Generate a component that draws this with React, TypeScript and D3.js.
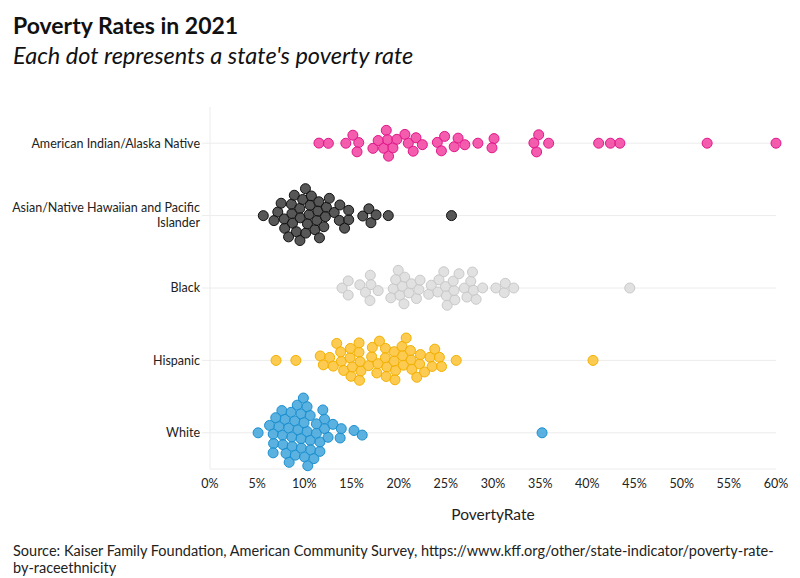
import * as d3 from "d3";
import { useEffect, useRef } from "react";

const width = 800;
const height = 578;
const margin = { top: 107, right: 24, bottom: 109, left: 210 };

const categories = [
  "American Indian/Alaska Native",
  "Asian/Native Hawaiian and Pacific Islander",
  "Black",
  "Hispanic",
  "White",
];

// poverty rate (%) per state
const aianRates = [
  11.7, 12.4, 14.4, 15.7, 15.6, 15.2, 17.3, 18.9, 18.7, 18.6, 18.5, 18.1, 19.3,
  19.8, 20.6, 21.1, 21.8, 21.5, 22.5, 24.2, 24.5, 24.8, 25.9, 26.3, 27.0, 28.4,
  30.1, 29.9, 34.6, 34.8, 34.4, 35.9, 41.2, 42.5, 43.4, 52.7, 60.0,
];
const asianRates = [
  5.65, 7.3, 6.8, 7.5, 8.1, 8.3, 8.3, 8.7, 8.7, 8.8, 9.1, 9.1, 9.4, 9.8, 9.7,
  9.8, 10.0, 10.2, 10.2, 10.3, 10.5, 10.8, 11.1, 11.2, 11.5, 11.6, 11.7, 11.8,
  12.0, 12.1, 12.6, 13.3, 13.7, 14.0, 14.4, 14.7, 14.2, 16.2, 17.1, 16.9, 17.5,
  18.9, 25.6,
];
const blackRates = [
  14.1, 14.6, 14.6, 15.9, 16.6, 17.0, 16.9, 17.0, 17.8, 19.5, 19.4, 20.1, 20.1,
  20.3, 20.4, 20.5, 19.9, 21.1, 21.3, 21.8, 22.1, 22.2, 23.3, 23.6, 24.4, 24.7,
  24.4, 24.8, 24.9, 25.2, 25.8, 25.8, 25.8, 26.3, 27.1, 27.3, 27.6, 27.8, 28.1,
  27.9, 28.9, 30.3, 31.2, 31.3, 32.2, 44.5,
];
const hispanicRates = [
  7.0, 9.1, 11.7, 12.0, 12.7, 13.1, 13.5, 14.0, 14.4, 13.8, 14.8, 14.9, 15.2,
  14.9, 15.8, 15.7, 15.9, 15.8, 15.8, 16.8, 17.2, 17.2, 17.7, 17.8, 18.1, 18.5,
  18.6, 18.7, 18.7, 19.6, 19.7, 19.8, 19.5, 20.3, 20.7, 20.7, 20.8, 21.1, 21.1,
  21.3, 21.9, 22.0, 22.3, 22.7, 23.5, 23.5, 23.8, 24.2, 24.5, 26.1, 40.6,
];
const whiteRates = [
  5.1, 6.6, 6.9, 6.7, 7.0, 7.2, 7.5, 7.7, 7.4, 7.8, 7.9, 8.2, 8.4, 8.6, 8.5,
  8.5, 8.8, 9.0, 9.2, 9.4, 9.5, 9.5, 9.6, 9.8, 9.7, 10.1, 10.3, 10.2, 10.3,
  10.3, 10.2, 10.5, 10.7, 10.9, 11.2, 11.6, 11.3, 11.9, 12.0, 12.4, 11.7, 11.6,
  12.9, 13.8, 13.9, 15.3, 16.1, 35.2,
];

const fills = ["#f23f9f", "#3a3a3a", "#dcdcdc", "#fdc233", "#3ea5dc"];
const strokes = ["#e0168a", "#111111", "#c9c9c9", "#f2b000", "#1b8fcf"];
const xTicks = [0, 5, 10, 15, 20, 25, 30, 35, 40, 45, 50, 55, 60];

function drawChart(svgEl: SVGSVGElement) {
  const svg = d3.select(svgEl);
  svg.selectAll("*").remove();

  const x = d3
    .scaleLinear()
    .domain([0, 60])
    .range([margin.left, width - margin.right]);
  const y = d3
    .scalePoint()
    .domain(categories)
    .range([margin.top, height - margin.bottom])
    .padding(0.5);

  const font = "Lato, 'Noto Sans', sans-serif";

  // horizontal gridlines per category (with a little tick out to the left)
  svg
    .append("g")
    .selectAll("line")
    .data(categories)
    .enter()
    .append("line")
    .attr("x1", margin.left - 8)
    .attr("x2", width - margin.right)
    .attr("y1", (d) => y(d)!)
    .attr("y2", (d) => y(d)!)
    .attr("stroke", "#ececec")
    .attr("stroke-width", 1);

  // left and bottom frame lines
  svg
    .append("line")
    .attr("x1", margin.left)
    .attr("x2", margin.left)
    .attr("y1", margin.top)
    .attr("y2", height - margin.bottom)
    .attr("stroke", "#ececec");
  svg
    .append("line")
    .attr("x1", margin.left)
    .attr("x2", width - margin.right)
    .attr("y1", height - margin.bottom)
    .attr("y2", height - margin.bottom)
    .attr("stroke", "#ececec");

  // category labels, wrapped where needed
  const labelLines: Record<string, string[]> = {
    "Asian/Native Hawaiian and Pacific Islander": [
      "Asian/Native Hawaiian and Pacific",
      "Islander",
    ],
  };
  const labels = svg
    .append("g")
    .selectAll("text")
    .data(categories)
    .enter()
    .append("text")
    .attr("x", margin.left - 10)
    .attr("text-anchor", "end")
    .attr("fill", "#222")
    .style("font-family", font)
    .style("font-size", "12.5px");
  labels.each(function (d) {
    const lines = labelLines[d] || [d];
    const t = d3.select(this);
    const y0 = y(d)! - ((lines.length - 1) * 15) / 2;
    lines.forEach((ln, i) => {
      t.append("tspan")
        .attr("x", margin.left - 10)
        .attr("y", y0 + i * 15)
        .attr("dy", "0.35em")
        .text(ln);
    });
  });

  // x tick labels
  svg
    .append("g")
    .selectAll("text")
    .data(xTicks)
    .enter()
    .append("text")
    .attr("x", (d) => x(d))
    .attr("y", height - margin.bottom + 15)
    .attr("dy", "0.35em")
    .attr("text-anchor", "middle")
    .attr("fill", "#222")
    .style("font-family", font)
    .style("font-size", "12.5px")
    .text((d) => d + "%");

  svg
    .append("text")
    .attr("x", (margin.left + width - margin.right) / 2)
    .attr("y", 520)
    .attr("text-anchor", "middle")
    .attr("fill", "#222")
    .style("font-family", font)
    .style("font-size", "15.5px")
    .text("PovertyRate");

  // beeswarm: one force layout per category
  const groups = [aianRates, asianRates, blackRates, hispanicRates, whiteRates];
  const r = 5;
  groups.forEach((rates, gi) => {
    const cy = y(categories[gi])!;
    const nodes: any[] = rates.map((v) => ({ v, x: x(v), y: cy }));
    const sim = d3
      .forceSimulation(nodes)
      .force("x", d3.forceX((d: any) => x(d.v)).strength(1))
      .force("y", d3.forceY(cy).strength(0.08))
      .force("collide", d3.forceCollide(r - 0.3).iterations(3))
      .stop();
    for (let i = 0; i < 300; i++) sim.tick();

    svg
      .append("g")
      .selectAll("circle")
      .data(nodes)
      .enter()
      .append("circle")
      .attr("cx", (d) => d.x)
      .attr("cy", (d) => d.y)
      .attr("r", r)
      .attr("fill", fills[gi])
      .attr("fill-opacity", 0.85)
      .attr("stroke", strokes[gi])
      .attr("stroke-width", 1);
  });

  // titles
  svg
    .append("text")
    .attr("x", 13)
    .attr("y", 34)
    .attr("fill", "#111")
    .style("font-family", font)
    .style("font-weight", "bold")
    .style("font-size", "23px")
    .text("Poverty Rates in 2021");
  svg
    .append("text")
    .attr("x", 13)
    .attr("y", 64)
    .attr("fill", "#111")
    .style("font-family", font)
    .style("font-style", "italic")
    .style("font-size", "23.5px")
    .text("Each dot represents a state's poverty rate");

  // source note
  const src = svg
    .append("text")
    .attr("fill", "#222")
    .style("font-family", font)
    .style("font-size", "14.5px");
  src
    .append("tspan")
    .attr("x", 13)
    .attr("y", 556)
    .text(
      "Source: Kaiser Family Foundation, American Community Survey, https://www.kff.org/other/state-indicator/poverty-rate-"
    );
  src.append("tspan").attr("x", 13).attr("y", 573).text("by-raceethnicity");
}

export default function App() {
  const ref = useRef<SVGSVGElement>(null);
  useEffect(() => {
    if (ref.current) drawChart(ref.current);
  }, []);
  return (
    <svg
      ref={ref}
      width={width}
      height={height}
      style={{ position: "absolute", left: 0, top: 0, background: "#fff" }}
    ></svg>
  );
}
